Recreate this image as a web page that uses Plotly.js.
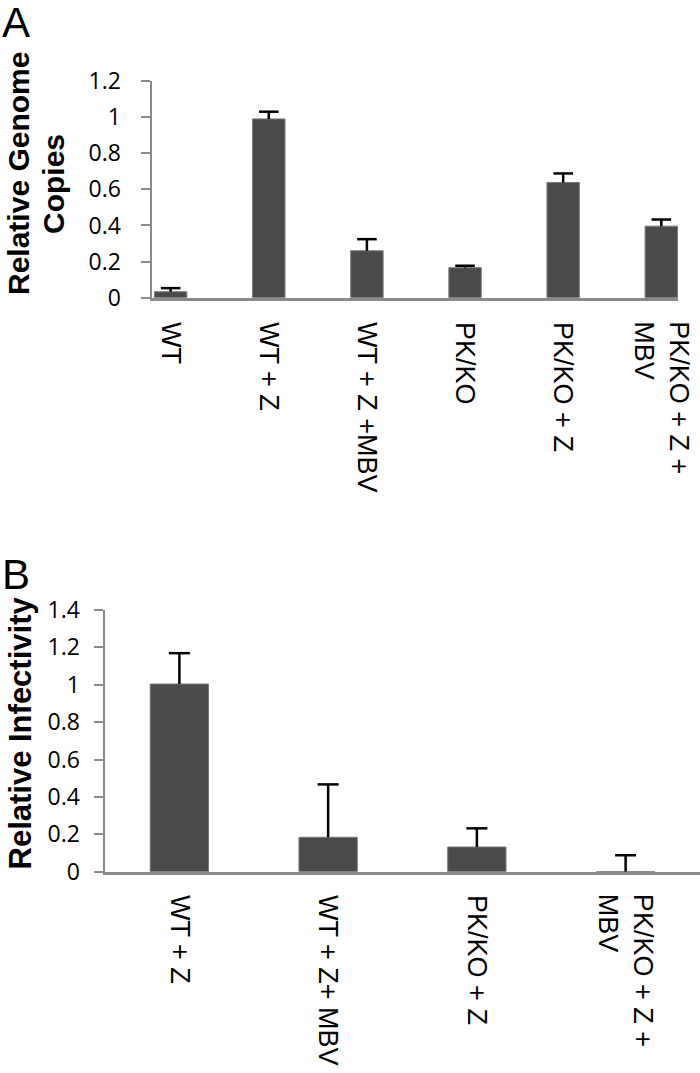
<!DOCTYPE html>
<html>
<head>
<meta charset="utf-8">
<script src="https://cdn.plot.ly/plotly-3.0.1.min.js"></script>
<style>html,body{margin:0;padding:0;background:#fff;}#chart{width:700px;height:1073px;}</style>
</head>
<body>
<div id="chart"></div>
<script>
// Panel A data
const categoriesA = ['WT', 'WT + Z', 'WT + Z +MBV', 'PK/KO', 'PK/KO + Z', 'PK/KO + Z +<br>MBV'];
const genomeCopies = [0.033, 0.99, 0.26, 0.166, 0.638, 0.396];
const genomeCopiesErr = [0.02, 0.04, 0.064, 0.011, 0.05, 0.037];
const tickValsA = [0, 0.2, 0.4, 0.6, 0.8, 1, 1.2];
const tickTextA = ['0', '0.2', '0.4', '0.6', '0.8', '1', '1.2'];

// Panel B data
const categoriesB = ['WT + Z', 'WT + Z+ MBV', 'PK/KO + Z', 'PK/KO + Z +<br>MBV'];
const infectivity = [1.004, 0.184, 0.132, 0];
const infectivityErr = [0.165, 0.283, 0.1, 0.088];
const tickValsB = [0, 0.2, 0.4, 0.6, 0.8, 1, 1.2, 1.4];
const tickTextB = ['0', '0.2', '0.4', '0.6', '0.8', '1', '1.2', '1.4'];

const W = 700, H = 1073;
const px = v => v / W;
const py = v => 1 - v / H;

const barColor = '#4a4a4a';
const barLine = {color: '#777777', width: 1};
const axisGray = '#8a8a8a';
const zeros = a => a.map(() => 0);
const tops = (v, e) => v.map((d, i) => d + e[i]);

const isMulti = c => c.indexOf('<br>') >= 0;
const singleA = categoriesA.filter(c => !isMulti(c));
const multiA = categoriesA.filter(isMulti);
const singleB = categoriesB.filter(c => !isMulti(c));
const multiB = categoriesB.filter(isMulti);

const traces = [
  {
    type: 'bar', x: categoriesA, y: genomeCopies, xaxis: 'x', yaxis: 'y',
    width: 0.33,
    marker: {color: barColor, line: barLine},
    error_y: {type: 'data', array: genomeCopiesErr, arrayminus: zeros(genomeCopiesErr),
              symmetric: false, color: '#000', thickness: 2.5, width: 0},
    hoverinfo: 'skip', showlegend: false
  },
  { // error bar caps, panel A
    type: 'scatter', mode: 'markers', x: categoriesA, y: tops(genomeCopies, genomeCopiesErr),
    xaxis: 'x', yaxis: 'y', cliponaxis: false,
    marker: {symbol: 'line-ew', size: 14, color: '#000', line: {color: '#000', width: 2.5}},
    hoverinfo: 'skip', showlegend: false
  },
  {
    type: 'bar', x: categoriesB, y: infectivity, xaxis: 'x2', yaxis: 'y2',
    width: 0.392,
    marker: {color: barColor, line: barLine},
    error_y: {type: 'data', array: infectivityErr, arrayminus: zeros(infectivityErr),
              symmetric: false, color: '#000', thickness: 2.5, width: 0},
    hoverinfo: 'skip', showlegend: false
  },
  { // error bar caps, panel B
    type: 'scatter', mode: 'markers', x: categoriesB, y: tops(infectivity, infectivityErr),
    xaxis: 'x2', yaxis: 'y2', cliponaxis: false,
    marker: {symbol: 'line-ew', size: 15, color: '#000', line: {color: '#000', width: 2.5}},
    hoverinfo: 'skip', showlegend: false
  }
];

const fontArial = '"Liberation Sans", Arial, sans-serif';
const tickFontY = {family: '"Open Sans", sans-serif', size: 23, color: '#000'};
const tickFontX = {family: fontArial, size: 27, color: '#000'};

const layout = {
  width: W, height: H,
  margin: {l: 0, r: 0, t: 0, b: 0},
  paper_bgcolor: '#fff', plot_bgcolor: '#fff',
  bargap: 0,
  xaxis: {
    domain: [px(152), px(678)], anchor: 'y',
    type: 'category', range: [-0.19, 5.17],
    categoryorder: 'array', categoryarray: categoriesA,
    tickvals: singleA, ticktext: singleA,
    showline: true, linecolor: axisGray, linewidth: 3,
    ticks: '', showgrid: false, zeroline: false,
    tickangle: 90, tickfont: tickFontX, ticklabelstandoff: 16
  },
  yaxis: {
    domain: [py(297.7), py(81)], anchor: 'x',
    range: [0, 1.2],
    tickvals: tickValsA, ticktext: tickTextA,
    showline: true, linecolor: axisGray, linewidth: 2.5,
    ticks: 'outside', ticklen: 9, tickwidth: 2, tickcolor: axisGray,
    showgrid: false, zeroline: false,
    tickfont: tickFontY, ticklabelstandoff: 15
  },
  xaxis2: {
    domain: [px(105), px(700)], anchor: 'y2',
    type: 'category', range: [-0.5, 3.5],
    categoryorder: 'array', categoryarray: categoriesB,
    tickvals: singleB, ticktext: singleB,
    showline: true, linecolor: axisGray, linewidth: 3,
    ticks: '', showgrid: false, zeroline: false,
    tickangle: 90, tickfont: tickFontX, ticklabelstandoff: 15
  },
  yaxis2: {
    domain: [py(871.7), py(610)], anchor: 'x2',
    range: [0, 1.4],
    tickvals: tickValsB, ticktext: tickTextB,
    showline: true, linecolor: axisGray, linewidth: 2.5,
    ticks: 'outside', ticklen: 9, tickwidth: 2, tickcolor: axisGray,
    showgrid: false, zeroline: false,
    tickfont: tickFontY, ticklabelstandoff: 9
  },
  annotations: [
    {text: 'A', xref: 'paper', yref: 'paper', x: 0, y: py(22), xanchor: 'left', yanchor: 'middle',
     showarrow: false, font: {family: fontArial, size: 42, color: '#000'}},
    {text: 'B', xref: 'paper', yref: 'paper', x: 0, y: py(574), xanchor: 'left', yanchor: 'middle',
     showarrow: false, font: {family: fontArial, size: 42, color: '#000'}},
    {text: '<b>Relative Genome</b>', xref: 'paper', yref: 'paper', x: px(18), y: py(174),
     xanchor: 'center', yanchor: 'middle', textangle: -90, showarrow: false,
     font: {family: fontArial, size: 30, color: '#000'}},
    {text: '<b>Copies</b>', xref: 'paper', yref: 'paper', x: px(54), y: py(184),
     xanchor: 'center', yanchor: 'middle', textangle: -90, showarrow: false,
     font: {family: fontArial, size: 30, color: '#000'}},
    {text: '<b>Relative Infectivity</b>', xref: 'paper', yref: 'paper', x: px(20), y: py(733.5),
     xanchor: 'center', yanchor: 'middle', textangle: -90, showarrow: false,
     font: {family: fontArial, size: 31, color: '#000'}}
  ].concat(
    // two-line category labels, centred on their bars
    multiA.map(c => ({text: c, xref: 'x', yref: 'paper', x: c, y: py(319),
      xanchor: 'center', yanchor: 'top', textangle: 90, align: 'left', showarrow: false,
      font: tickFontX})),
    multiB.map(c => ({text: c, xref: 'x2', yref: 'paper', x: c, y: py(892),
      xanchor: 'center', yanchor: 'top', textangle: 90, align: 'left', showarrow: false,
      font: tickFontX}))
  )
};

Plotly.newPlot('chart', traces, layout, {staticPlot: true, displayModeBar: false});
</script>
</body>
</html>
